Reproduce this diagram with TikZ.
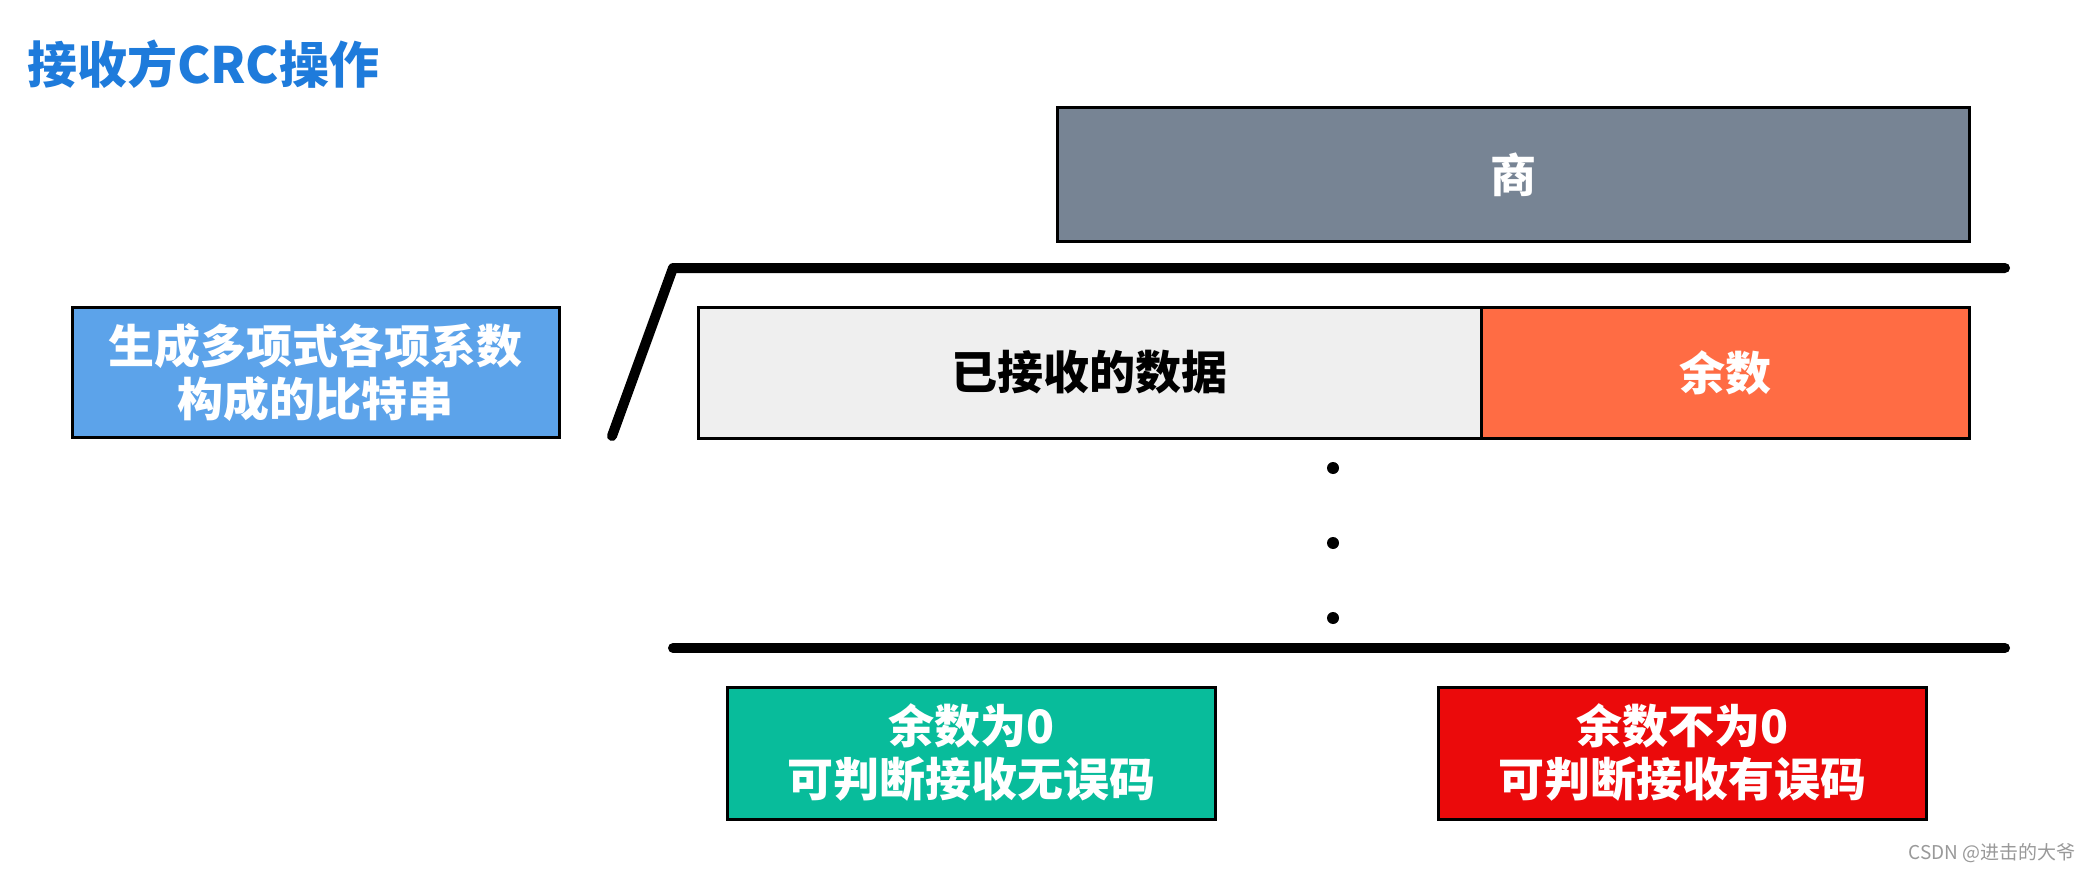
\documentclass[tikz,border=0pt]{standalone}
\usepackage{fontspec}
\setmainfont{Noto Sans CJK SC}
\definecolor{quotgray}{HTML}{778494}
\definecolor{datagray}{HTML}{EFEFEF}
\definecolor{remorange}{HTML}{FF6C44}
\definecolor{polyblue}{HTML}{5CA3EA}
\definecolor{okgreen}{HTML}{08BC9B}
\definecolor{errred}{HTML}{EB0A0B}
\definecolor{titleblue}{HTML}{1E7BDB}
\definecolor{markgray}{HTML}{999999}
\begin{document}
\begin{tikzpicture}[x=1pt,y=-1pt,
  box/.style={draw=black, line width=3pt, inner sep=0pt, align=center, text=white,
    font=\bfseries\fontsize{46}{53}\selectfont},
  thickline/.style={line width=10pt, line cap=round, line join=round},
  dotmark/.style={circle, fill=black, inner sep=0pt, minimum size=12pt}]
\useasboundingbox (0,0) rectangle (2091,872);
\fill[white] (0,0) rectangle (2091,872);

\node[anchor=west, inner sep=0pt, text=titleblue, font=\bfseries\fontsize{50}{58}\selectfont] (title) at (27,64) {接收方CRC操作};

\node[box, fill=quotgray, minimum width=912pt, minimum height=133pt] (quot) at (1513,174.5) {商};

\node[box, fill=polyblue, minimum width=487pt, minimum height=130pt] (poly) at (315.5,372) {生成多项式各项系数\\构成的比特串};

\node[box, fill=datagray, text=black, minimum width=783pt, minimum height=131pt] (data) at (1089.5,372.5) {已接收的数据};
\node[box, fill=remorange, minimum width=488pt, minimum height=131pt] (rem) at (1725,372.5) {余数};

\coordinate (bl) at (612,436);
\coordinate (tl) at (673,268);
\coordinate (tr) at (2005,268);
\draw[thickline] (bl) -- (tl) -- (tr);

\node[dotmark] (d1) at (1333,468) {};
\node[dotmark] (d2) at (1333,543) {};
\node[dotmark] (d3) at (1333,618) {};

\coordinate (ll) at (673,648);
\coordinate (lr) at (2005,648);
\draw[thickline] (ll) -- (lr);

\node[box, fill=okgreen, minimum width=488pt, minimum height=132pt] (ok) at (971,753) {余数为0\\可判断接收无误码};
\node[box, fill=errred, minimum width=488pt, minimum height=132pt] (err) at (1682,753) {余数不为0\\可判断接收有误码};

\node[anchor=east, inner sep=0pt, text=markgray, font=\fontsize{19}{22}\selectfont] (mark) at (2076,853) {CSDN @进击的大爷};
\end{tikzpicture}
\end{document}
